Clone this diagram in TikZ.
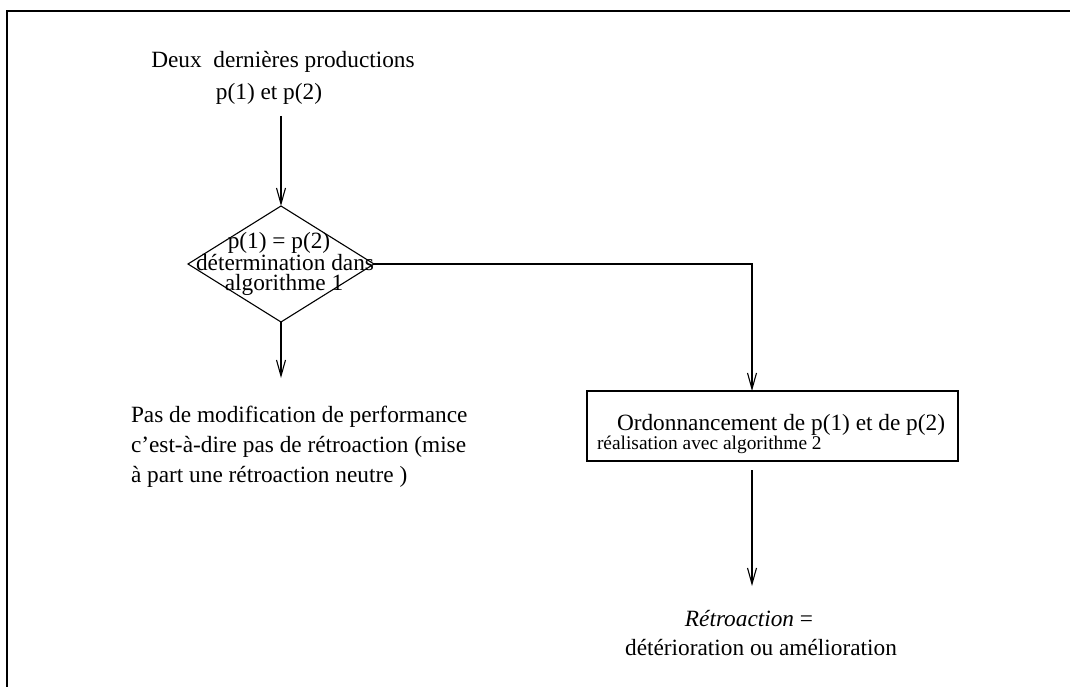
\documentclass[tikz,border=0pt]{standalone}
\usepackage{fontspec}
\setmainfont{Liberation Serif}
\usetikzlibrary{shapes.geometric,arrows.meta}
\begin{document}
\begin{tikzpicture}[x=1pt,y=-1pt,
  every node/.style={inner sep=0pt, outer sep=0pt},
  txt/.style={font=\fontsize{23.3}{28}\selectfont, anchor=base},
  txtl/.style={font=\fontsize{23.3}{28}\selectfont, anchor=base west},
  small/.style={font=\fontsize{19.4}{23}\selectfont, anchor=base west},
  arr/.style={line width=1.1pt, -{Straight Barb[length=16pt,width=9pt,line width=1.1pt]}},
  ln/.style={line width=1.1pt},
  decision/.style={draw, diamond, line width=1.1pt, shape aspect=1.6, minimum width=186pt, minimum height=116pt},
  procbox/.style={draw, rectangle, line width=1.1pt, minimum width=371pt, minimum height=70pt}]
\useasboundingbox (0,0) rectangle (1070,687);
% frame (top and left edges only)
\draw[line width=1.5pt] (1070,11) -- (7,11) -- (7,687);

% top text
\node[txt] (t1) at (283,68) {Deux\ \ dernières productions};
\node[txt] (t2) at (269,100) {p(1) et p(2)};

% decision diamond
\node[decision] (dec) at (281,264) {};
\node[txt] (d1) at (279,248) {p(1) = p(2)};
\node[txt] (d2) at (285,270) {détermination dans};
\node[txt] (d3) at (284,290) {algorithme 1};

% process box
\node[procbox] (box) at (772.5,426) {};
\node[txtl] (b1) at (617,430) {Ordonnancement de p(1) et de p(2)};
\node[small] (b2) at (597,449) {réalisation avec algorithme 2};

% left result text
\node[txtl] (l1) at (131,422) {Pas de modification de performance};
\node[txtl] (l2) at (131,452) {c’est-à-dire pas de rétroaction (mise};
\node[txtl] (l3) at (131,482) {à part une rétroaction neutre )};

% right result text
\node[txt] (r1) at (749,626) {\textit{Rétroaction} =};
\node[txt] (r2) at (761,655) {détérioration ou amélioration};

% connector coordinates
\coordinate (a0) at (281,116);
\coordinate (a1) at (281,378);
\coordinate (bn) at (752,391);
\coordinate (c0) at (752,470);
\coordinate (c1) at (752,586);

% connectors
\draw[arr] (a0) -- (dec.north);
\draw[arr] (dec.south) -- (a1);
\draw[arr] (dec.east) -| (bn);
\draw[arr] (c0) -- (c1);
\end{tikzpicture}
\end{document}
